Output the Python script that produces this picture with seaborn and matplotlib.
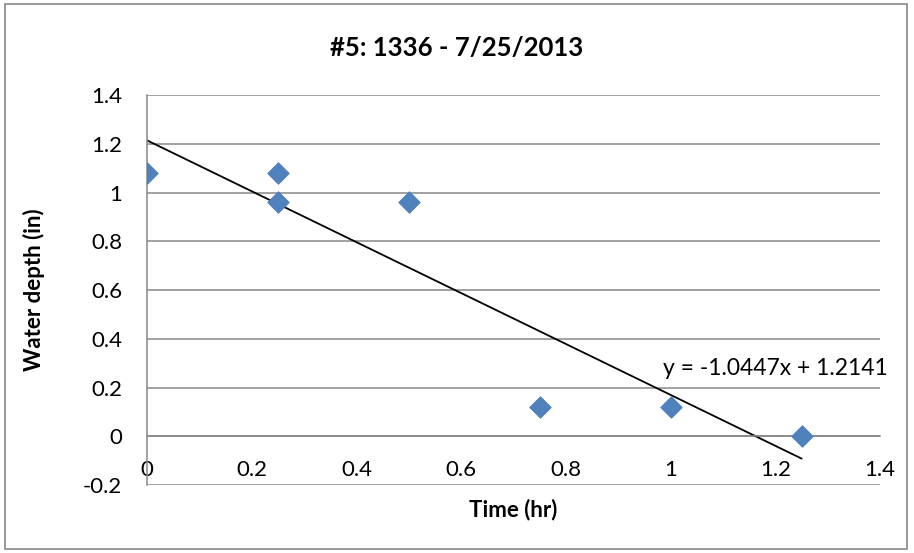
import matplotlib
matplotlib.use("Agg")
from matplotlib import pyplot as plt
from matplotlib.patches import Rectangle
import pandas as pd
import seaborn as sns
import numpy as np

# data
time_hr = [0, 0.25, 0.25, 0.5, 0.75, 1.0, 1.25]
depth_in = [1.08, 1.08, 0.96, 0.96, 0.12, 0.12, 0.0]
x_ticks = [0, 0.2, 0.4, 0.6, 0.8, 1, 1.2, 1.4]
y_ticks = [-0.2, 0, 0.2, 0.4, 0.6, 0.8, 1, 1.2, 1.4]
title = "#5: 1336 - 7/25/2013"

sns.set_style("white", {'text.color': 'black', 'axes.labelcolor': 'black',
                        'xtick.color': 'black', 'ytick.color': 'black'})
plt.rcParams['font.family'] = ['Lato', 'DejaVu Sans']

df = pd.DataFrame({'time': time_hr, 'depth': depth_in})

fig = plt.figure(figsize=(9.14, 5.53), dpi=100)
ax = fig.add_axes([0.161, 0.123, 0.802, 0.705])

grid_c = '#878787'
sns.regplot(ax=ax, data=df, x='time', y='depth', ci=None, truncate=True,
            marker='D',
            scatter_kws={'color': '#4F81BD', 's': 120, 'zorder': 3, 'alpha': 1,
                         'linewidths': 0.6, 'edgecolors': '#4A7EBB'},
            line_kws={'color': 'black', 'lw': 1.3, 'zorder': 2})

# equation of the trendline (same least squares fit)
slope, icpt = np.polyfit(time_hr, depth_in, 1)
ax.text(0.985, 0.279, "y = {:.4f}x + {:.4f}".format(slope, icpt),
        fontsize=16.5, va='center', ha='left')

ax.set_xlim(0, 1.4)
ax.set_ylim(-0.2, 1.4)
ax.set_xticks(x_ticks)
ax.set_xticklabels(['0', '0.2', '0.4', '0.6', '0.8', '1', '1.2', '1.4'])
ax.set_yticks(y_ticks)
ax.set_yticklabels(['-0.2', '0', '0.2', '0.4', '0.6', '0.8', '1', '1.2', '1.4'])
ax.yaxis.grid(True, color=grid_c, lw=1.1)
ax.set_axisbelow(True)
for s in ['top', 'right']:
    ax.spines[s].set_visible(False)
ax.spines['bottom'].set_position(('data', 0))
ax.spines['bottom'].set_color(grid_c)
ax.spines['bottom'].set_linewidth(1.1)
ax.spines['left'].set_color(grid_c)
ax.spines['left'].set_linewidth(1.1)
ax.tick_params(axis='both', length=0, labelsize=16, labelcolor='black')
ax.tick_params(axis='x', pad=17)
ax.tick_params(axis='y', pad=18)

ax.set_xlabel('Time (hr)', fontsize=16, fontweight='bold', color='black')
ax.set_ylabel('Water depth (in)', fontsize=16, fontweight='bold', color='black')
ax.xaxis.set_label_coords(0.5, -0.036)
ax.yaxis.set_label_coords(-0.14, 0.5)
fig.text(0.5, 0.913, title, fontsize=18.5, fontweight='bold', ha='center', va='center',
         color='black')

fig.patches.append(Rectangle((0.005, 0.007), 0.987, 0.985, transform=fig.transFigure,
                             fill=False, edgecolor='#878787', lw=1.2))

fig.savefig('out.png', dpi=100)
